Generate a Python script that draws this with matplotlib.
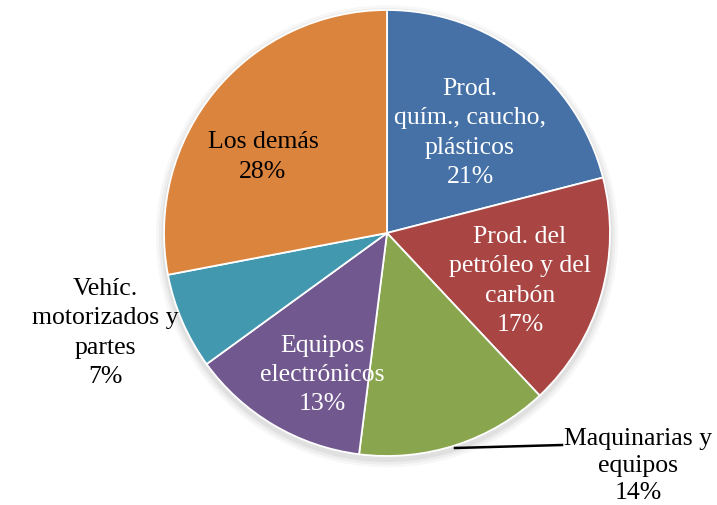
import matplotlib.pyplot as plt
import numpy as np

# data
sectores = ['Prod.\nquím., caucho,\nplásticos', 'Prod. del\npetróleo y del\ncarbón',
            'Maquinarias y\nequipos', 'Equipos\nelectrónicos',
            'Vehíc.\nmotorizados y\npartes', 'Los demás']
porcentajes = [21, 17, 14, 13, 7, 28]
colores = ['#4571A7', '#A94543', '#89A54E', '#71588F', '#4298AF', '#DB843D']
color_texto = ['white', 'white', 'black', 'white', 'black', 'black']

plt.rcParams['font.family'] = ['Liberation Serif', 'DejaVu Serif']

W, H = 717, 506
cx, cy, r = 387, 234, 223

fig = plt.figure(figsize=(W / 100, H / 100), dpi=100)
ax = fig.add_axes([0, 0, 1, 1])
ax.set_aspect('equal')
ax.axis('off')

def px(x, y):
    return (x - cx) / r, (cy - y) / r

# soft shadow
for i, a in enumerate([0.05, 0.04, 0.03]):
    ax.add_patch(plt.Circle((0.0, -0.015), 1.0 + 0.012 * (i + 1), color='black',
                            alpha=a, lw=0, zorder=0))

wedges, _ = ax.pie(porcentajes, colors=colores, startangle=90, counterclock=False,
                   radius=1.0, center=(0, 0),
                   wedgeprops=dict(edgecolor='white', linewidth=1.3))
for w in wedges:
    w.set_zorder(2)
ax.set_xlim(-cx / r, (W - cx) / r)
ax.set_ylim((cy - H) / r, cy / r)

posiciones = [(470, 133), (520, 281), (638, 466), (322, 375), (105, 333), (263, 157)]
espaciado = [1.42, 1.42, 1.3, 1.42, 1.42, 1.42]
for nombre, p, pos, c, ls in zip(sectores, porcentajes, posiciones, color_texto, espaciado):
    x, y = px(*pos)
    ax.text(x, y, f'{nombre}\n{p}%', ha='center', va='center', color=c,
            fontsize=18.5, linespacing=ls, zorder=5)

# leader line for Maquinarias y equipos
x0, y0 = px(455, 449)
x1, y1 = px(562, 446)
ax.plot([x0, x1], [y0, y1], color='black', lw=1.8, zorder=4)

fig.savefig('out.png', dpi=100)
